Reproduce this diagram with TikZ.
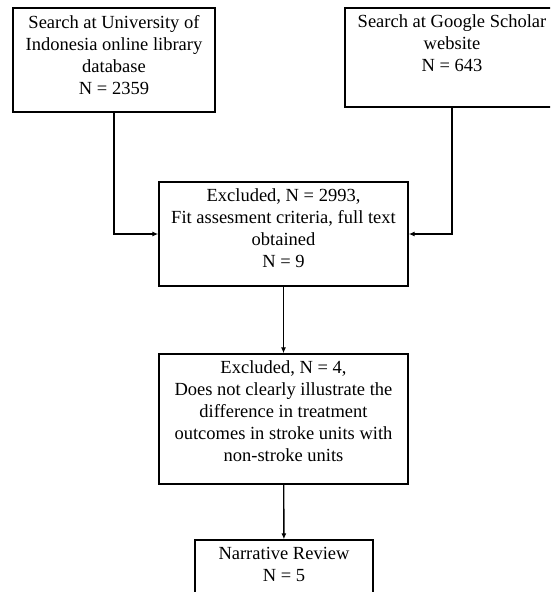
\documentclass[tikz,border=0pt]{standalone}
\usepackage{fontspec}
\setmainfont{Liberation Serif}
\usepackage{tikz}
\usetikzlibrary{arrows.meta}
\newcommand{\flowtext}[3]{\parbox[c][#2][t]{#1}{\centering #3}}
\tikzset{
	flowbox/.style={rectangle, draw=black, line width=1.4pt, inner xsep=4pt, inner ysep=7pt, font=\fontsize{18.5}{22}\selectfont},
	flowarrow/.style={line width=1.4pt, -{Latex[length=6pt,width=5pt]}}
}

\begin{document}
\begin{tikzpicture}[x=1pt,y=-1pt]
			\useasboundingbox (0,0) rectangle (550,592);
			\clip (0,0) rectangle (550,592);
			
			\node[flowbox] (univ) at (114,60) {\flowtext{194pt}{90pt}{Search at University of\\ Indonesia online library\\ database\\ N = 2359}};
			\node[flowbox] (scholar) at (452,57.5) {\flowtext{206pt}{85pt}{Search at Google Scholar\\ website\\ N = 643}};
			\node[flowbox] (fit) at (283.5,234) {\flowtext{241pt}{90pt}{Excluded, N = 2993,\\ Fit assesment criteria, full text\\ obtained\\ N = 9}};
			\node[flowbox] (diff) at (283.5,419) {\flowtext{241pt}{116pt}{Excluded, N = 4,\\ Does not clearly illustrate the\\ difference in treatment\\ outcomes in stroke units with\\ non-stroke units}};
			\node[flowbox] (review) at (284,570) {\flowtext{170pt}{46pt}{Narrative Review\\ N = 5}};
			
			\draw[flowarrow] (univ.south) |- (fit.west);
			\draw[flowarrow] (scholar.south) |- (fit.east);
			\draw[flowarrow] (fit) -- (diff);
			\draw[flowarrow] (diff) -- (review);
		\end{tikzpicture}
\end{document}
